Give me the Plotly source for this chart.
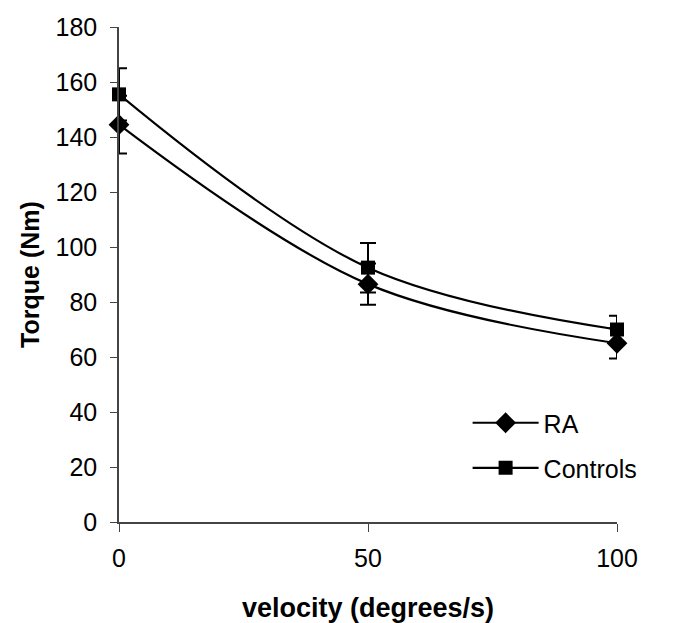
import plotly.graph_objects as go

velocity = [0, 50, 100]
ra_torque = [144.5, 86.5, 65]
ra_err = [10.5, 7.5, 5.5]
ctrl_torque = [155.5, 92.5, 70]
ctrl_err = [9.5, 9, 5]
y_ticks = [0, 20, 40, 60, 80, 100, 120, 140, 160, 180]
x_ticks = [0, 50, 100]

FONT = "Liberation Sans, Arial, sans-serif"

fig = go.Figure()
fig.add_trace(go.Scatter(
    x=velocity, y=ra_torque, name="RA", mode="lines+markers",
    line=dict(color="black", width=2.2, shape="spline", smoothing=1),
    marker=dict(symbol="diamond", size=16, color="black"),
    error_y=dict(type="data", array=ra_err, visible=True, color="black", thickness=2, width=8),
    cliponaxis=False, legend="legend",
))
fig.add_trace(go.Scatter(
    x=velocity, y=ctrl_torque, name="Controls", mode="lines+markers",
    line=dict(color="black", width=2.2, shape="spline", smoothing=1),
    marker=dict(symbol="square", size=14, color="black"),
    error_y=dict(type="data", array=ctrl_err, visible=True, color="black", thickness=2, width=8),
    cliponaxis=False, legend="legend2",
))

legend_common = dict(
    xref="paper", yref="paper", xanchor="left", yanchor="middle",
    bgcolor="rgba(0,0,0,0)", borderwidth=0, itemwidth=66,
    font=dict(family=FONT, size=25, color="black"),
)
fig.update_layout(
    width=682, height=623,
    margin=dict(l=119, r=65, t=27, b=101, autoexpand=False),
    paper_bgcolor="white", plot_bgcolor="white",
    font=dict(family=FONT, size=25, color="black"),
    showlegend=True,
    legend=dict(x=0.70, y=0.2, **legend_common),
    legend2=dict(x=0.70, y=0.109, **legend_common),
    xaxis=dict(
        range=[0, 100], tickvals=x_ticks, ticks="outside", ticklen=8, tickwidth=1,
        tickcolor="#444", showline=True, linecolor="#444", linewidth=1.5,
        showgrid=False, zeroline=False, ticklabelstandoff=5, automargin=False,
        tickfont=dict(family=FONT, size=25, color="black"),
        title=dict(text="velocity (degrees/s)", standoff=31,
                   font=dict(family=FONT, size=27, color="black", weight="bold")),
    ),
    yaxis=dict(
        range=[0, 180], tickvals=y_ticks, ticks="outside", ticklen=7, tickwidth=1,
        tickcolor="#444", showline=True, linecolor="#444", linewidth=1.5,
        showgrid=False, zeroline=False, ticklabelstandoff=8, automargin=False,
        tickfont=dict(family=FONT, size=25, color="black"),
        title=dict(text="Torque (Nm)", standoff=9,
                   font=dict(family=FONT, size=25, color="black", weight="bold")),
    ),
)

fig.write_html("out.html")
